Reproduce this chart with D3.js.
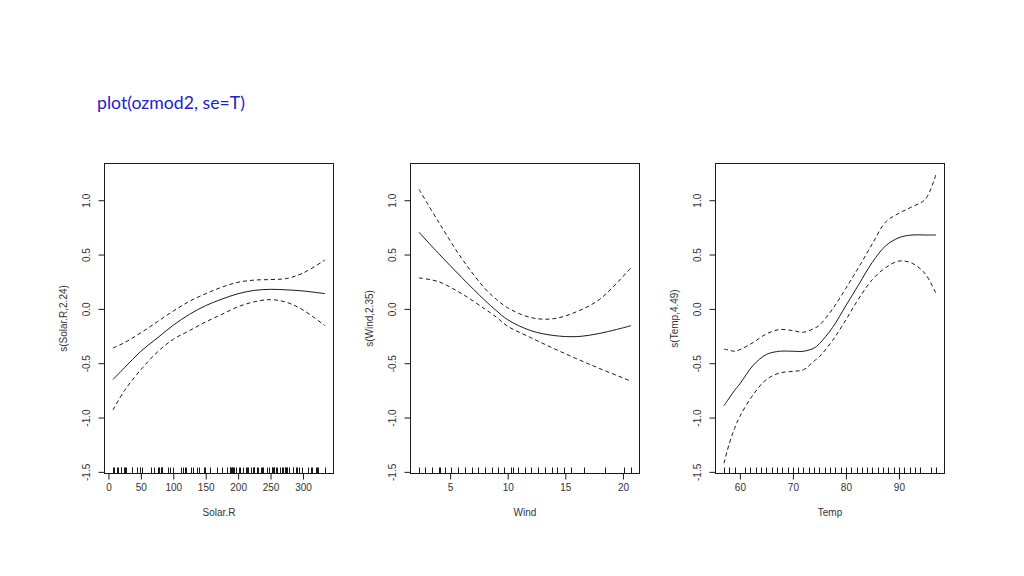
<!DOCTYPE html>
<html>
<head>
<meta charset="utf-8">
<script src="https://cdn.jsdelivr.net/npm/d3@7"></script>
<style>
  html, body { margin: 0; padding: 0; background: #fff; }
  svg { display: block; }
  .tick-label, .axis-title { font-family: "Liberation Sans", Arial, sans-serif; font-size: 10px; fill: #333; }
</style>
</head>
<body>
<svg id="chart" width="1024" height="576"></svg>
<script>
// ---------- DATA ----------
const titleText = "plot(ozmod2, se=T)";

// Panel 1: Solar.R
const solarX     = [7, 25, 50, 75, 100, 125, 150, 175, 200, 225, 250, 275, 300, 334];
const solarFit   = [-0.65, -0.54, -0.39, -0.27, -0.15, -0.05, 0.03, 0.09, 0.14, 0.17, 0.18, 0.175, 0.165, 0.14];
const solarUpper = [-0.36, -0.31, -0.22, -0.12, -0.02, 0.07, 0.14, 0.20, 0.245, 0.265, 0.27, 0.28, 0.33, 0.45];
const solarLower = [-0.93, -0.75, -0.56, -0.40, -0.28, -0.20, -0.12, -0.05, 0.02, 0.065, 0.085, 0.06, -0.01, -0.155];
const solarRug   = [7, 8, 13, 14, 19, 20, 24, 25, 27, 36, 37, 44, 48, 49, 51, 65, 71, 77, 78, 81, 82, 83, 92, 95, 99,
                    112, 115, 118, 120, 127, 131, 137, 139, 148, 149, 157, 167, 175, 183, 187, 188, 189, 190, 191, 192,
                    193, 197, 201, 203, 207, 212, 213, 215, 220, 223, 224, 225, 229, 230, 236, 237, 238, 244, 248, 252,
                    253, 254, 255, 256, 259, 260, 264, 267, 269, 272, 273, 274, 275, 276, 279, 284, 285, 290, 291, 294,
                    299, 307, 313, 314, 320, 322, 323, 334];
const solarTicks = [0, 50, 100, 150, 200, 250, 300];

// Panel 2: Wind
const windX     = [2.3, 4, 6, 8, 9, 10, 12, 14, 16, 18, 20.7];
const windFit   = [0.705, 0.51, 0.29, 0.08, -0.015, -0.10, -0.20, -0.245, -0.255, -0.225, -0.155];
const windUpper = [1.10, 0.80, 0.466, 0.19, 0.09, 0.01, -0.08, -0.09, -0.025, 0.09, 0.38];
const windLower = [0.285, 0.25, 0.14, 0.0, -0.075, -0.16, -0.265, -0.365, -0.46, -0.55, -0.665];
const windRug   = [2.3, 2.8, 3.4, 4.0, 4.1, 4.6, 5.1, 5.7, 6.3, 6.9, 7.4, 8.0, 8.6, 9.2, 9.7, 10.3, 10.5, 10.9,
                   11.5, 12.0, 12.6, 13.2, 13.8, 14.3, 14.9, 15.5, 16.6, 18.4, 20.1, 20.7];
const windTicks = [5, 10, 15, 20];

// Panel 3: Temp
const tempX     = [57, 58, 59, 60, 62.5, 65, 67.5, 70, 72, 74, 75, 77.5, 80, 82.5, 85, 87.5, 90, 92.5, 95, 97];
const tempFit   = [-0.89, -0.82, -0.75, -0.69, -0.52, -0.42, -0.39, -0.39, -0.39, -0.36, -0.32, -0.17, 0.03, 0.23, 0.43, 0.58, 0.655, 0.68, 0.68, 0.68];
const tempUpper = [-0.37, -0.38, -0.39, -0.375, -0.31, -0.23, -0.19, -0.20, -0.215, -0.18, -0.15, 0.0, 0.19, 0.39, 0.60, 0.80, 0.88, 0.94, 1.01, 1.24];
const tempLower = [-1.42, -1.24, -1.10, -0.99, -0.79, -0.65, -0.59, -0.575, -0.56, -0.48, -0.44, -0.29, -0.10, 0.10, 0.27, 0.38, 0.44, 0.42, 0.32, 0.14];
const tempRug   = [57, 58, 59, 61, 62, 63, 64, 65, 66, 67, 68, 69, 70, 71, 72, 73, 74, 75, 76, 77, 78, 79, 80,
                   81, 82, 83, 84, 85, 86, 87, 88, 89, 90, 91, 92, 93, 94, 96, 97];
const tempTicks = [60, 70, 80, 90];

const yTicks = [-1.5, -1.0, -0.5, 0.0, 0.5, 1.0];
const yDomain = [-1.515, 1.338];

const panels = [
  { xlab: "Solar.R", ylab: "s(Solar.R,2.24)", x: solarX, fit: solarFit, up: solarUpper, lo: solarLower, rug: solarRug, ticks: solarTicks },
  { xlab: "Wind",    ylab: "s(Wind,2.35)",    x: windX,  fit: windFit,  up: windUpper,  lo: windLower,  rug: windRug,  ticks: windTicks },
  { xlab: "Temp",    ylab: "s(Temp,4.49)",    x: tempX,  fit: tempFit,  up: tempUpper,  lo: tempLower,  rug: tempRug,  ticks: tempTicks }
];

// ---------- LAYOUT ----------
const svg = d3.select("#chart");
const boxLefts = [104.5, 410.5, 715.5];
const boxW = 229, boxTop = 163.5, boxBottom = 473.5;
const lineColor = "#1a1a1a";
const rFormat = d => d.toFixed(1); // R-style labels with ASCII hyphen

// Title
const title = svg.append("text")
  .attr("x", 97).attr("y", 109)
  .attr("font-family", "Lato, 'Open Sans', sans-serif")
  .attr("font-size", 18)
  .attr("fill", "#2323c8")
  .text(titleText);
const tw = title.node().getComputedTextLength();
title.attr("font-size", 18 * 148 / tw);

const y = d3.scaleLinear().domain(yDomain).range([boxBottom, boxTop]);

panels.forEach((p, i) => {
  const left = boxLefts[i], right = left + boxW;
  const ext = d3.extent(p.rug);
  const pad = (ext[1] - ext[0]) * 0.04;
  const x = d3.scaleLinear().domain([ext[0] - pad, ext[1] + pad]).range([left, right]);
  const g = svg.append("g");

  // curves
  const line = d3.line().x(d => x(d[0])).y(d => y(d[1])).curve(d3.curveCatmullRom.alpha(0.5));
  g.append("path").datum(p.x.map((v, j) => [v, p.fit[j]]))
    .attr("d", line).attr("fill", "none").attr("stroke", lineColor).attr("stroke-width", 1);
  [p.up, p.lo].forEach(arr => {
    g.append("path").datum(p.x.map((v, j) => [v, arr[j]]))
      .attr("d", line).attr("fill", "none").attr("stroke", lineColor).attr("stroke-width", 1)
      .attr("stroke-dasharray", "4,3");
  });

  // rug
  g.append("g").selectAll("line").data(p.rug).join("line")
    .attr("x1", d => Math.round(x(d)) + 0.5).attr("x2", d => Math.round(x(d)) + 0.5)
    .attr("y1", boxBottom).attr("y2", boxBottom - 6)
    .attr("stroke", lineColor).attr("stroke-width", 1);

  // x axis
  const xAxis = d3.axisBottom(x).tickValues(p.ticks).tickSize(6).tickPadding(4).tickFormat(d => String(d));
  const xg = g.append("g").attr("transform", `translate(0,${boxBottom})`).call(xAxis);
  xg.select(".domain").remove();
  xg.attr("font-size", null).attr("font-family", null);
  xg.selectAll(".tick line").attr("stroke", lineColor);
  xg.selectAll(".tick text").attr("class", "tick-label").attr("fill", null);

  // y axis
  const yAxis = d3.axisLeft(y).tickValues(yTicks).tickSize(6).tickFormat(rFormat);
  const yg = g.append("g").attr("transform", `translate(${left},0)`).call(yAxis);
  yg.select(".domain").remove();
  yg.attr("font-size", null).attr("font-family", null);
  yg.selectAll(".tick line").attr("stroke", lineColor);
  yg.selectAll(".tick text")
    .attr("class", "tick-label").attr("fill", null)
    .attr("x", null)
    .attr("text-anchor", "middle")
    .attr("transform", "translate(-15,0) rotate(-90)")
    .attr("dy", "0em");

  // box
  g.append("rect").attr("x", left).attr("y", boxTop).attr("width", boxW).attr("height", boxBottom - boxTop)
    .attr("fill", "none").attr("stroke", lineColor).attr("stroke-width", 1);

  // axis titles
  g.append("text").attr("class", "axis-title")
    .attr("x", (left + right) / 2).attr("y", 516).attr("text-anchor", "middle").text(p.xlab);
  g.append("text").attr("class", "axis-title")
    .attr("transform", `translate(${left - 38},${(boxTop + boxBottom) / 2}) rotate(-90)`)
    .attr("text-anchor", "middle").text(p.ylab);
});
</script>
</body>
</html>
